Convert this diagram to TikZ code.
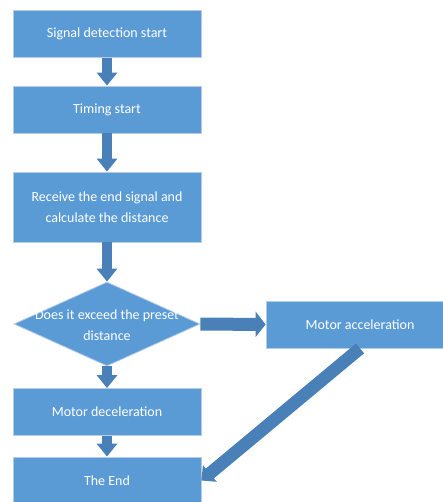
\documentclass[tikz,border=0pt]{standalone}
\usepackage{fontspec}
\setmainfont{Carlito}
\usetikzlibrary{shapes.geometric,arrows.meta}
\definecolor{boxfill}{HTML}{5B9BD5}
\definecolor{boxedge}{HTML}{B4CCE6}
\definecolor{arrowfill}{HTML}{4A80B8}
\tikzset{
  stepbox/.style={rectangle, fill=boxfill, draw=boxedge, line width=0.8pt,
    minimum width=188pt, minimum height=47pt, inner sep=0pt,
    text=white, font=\fontsize{14}{21}\selectfont, align=center},
  decbox/.style={diamond, fill=boxfill, draw=boxedge, line width=0.8pt,
    minimum width=186pt, minimum height=84pt, inner sep=0pt},
  decbox text/.style={text=white, font=\fontsize{14}{21}\selectfont, align=center},
  varrow/.style={draw=arrowfill, line width=10.5pt,
    -{Triangle[width=20pt,length=13pt,fill=arrowfill]}},
  harrow/.style={draw=arrowfill, line width=13pt,
    -{Triangle[width=25pt,length=10pt,fill=arrowfill]}},
  darrow/.style={draw=arrowfill, line width=12.7pt,
    -{Triangle[width=21pt,length=11pt,fill=arrowfill]}},
}
\begin{document}
\begin{tikzpicture}[x=1pt,y=-1pt]
\useasboundingbox (0,0) rectangle (443,502);
\begin{scope}
\clip (0,0) rectangle (443,502);
\node[stepbox] (s1) at (107,34) {Signal detection start};
\node[stepbox] (s2) at (107,109.5) {Timing start};
\node[stepbox, minimum height=70pt] (s3) at (107,207) {Receive the end signal and\\calculate the distance};
\node[decbox] (d) at (107,324) {};
\node[decbox text] (dt) at (107,325.5) {Does it exceed the preset\\distance};
\node[stepbox] (ma) at (360,324.5) {Motor acceleration};
\node[stepbox] (md) at (107,412) {Motor deceleration};
\node[stepbox] (te) at (107,480.5) {The End};
\draw[varrow] (s1.south) -- (s2.north);
\draw[varrow] (s2.south) -- (s3.north);
\draw[varrow] (s3.south) -- (d.north);
\draw[varrow] (d.south) -- (md.north);
\draw[varrow] (md.south) -- (te.north);
\draw[harrow] (d.east) -- (ma.west);
\draw[darrow] (ma.south) -- (te.east);
\end{scope}
\end{tikzpicture}
\end{document}
